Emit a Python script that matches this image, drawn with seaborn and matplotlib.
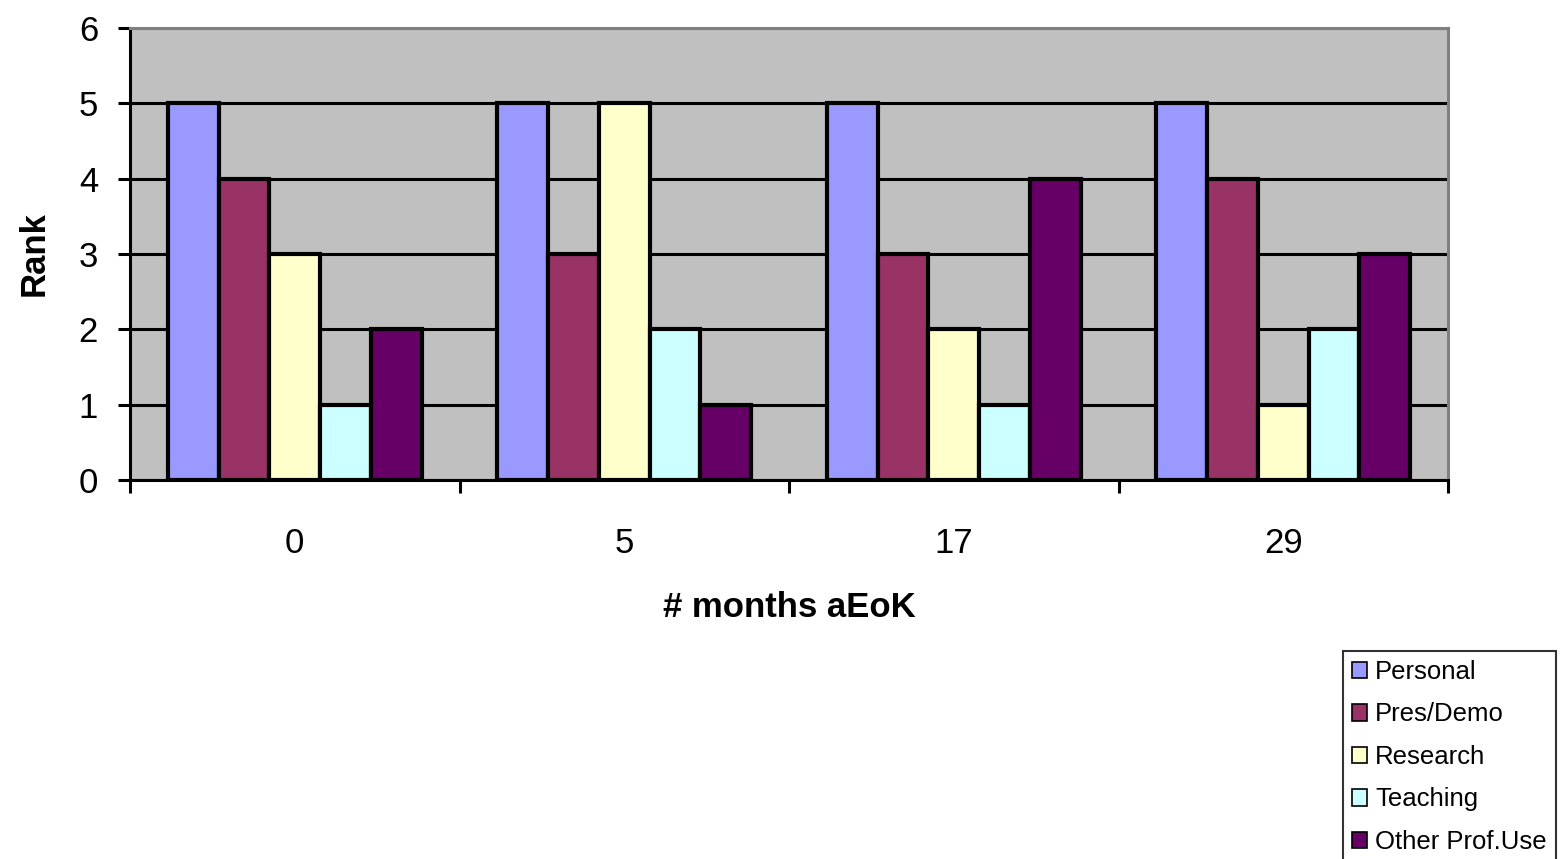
import pandas as pd
import seaborn as sns
import matplotlib.pyplot as plt
from matplotlib.ticker import FixedLocator

# dati
mesi = ["0", "5", "17", "29"]
usi = ["Personal", "Pres/Demo", "Research", "Teaching", "Other Prof.Use"]
personal = [5, 5, 5, 5]
pres_demo = [4, 3, 3, 4]
research = [3, 5, 2, 1]
teaching = [1, 2, 1, 2]
other_prof = [2, 1, 4, 3]
colori = ["#9999FF", "#993366", "#FFFFCC", "#CCFFFF", "#660066"]

righe = []
for nome, valori in zip(usi, [personal, pres_demo, research, teaching, other_prof]):
    for m, v in zip(mesi, valori):
        righe.append({"mese": m, "uso": nome, "rank": v})
df = pd.DataFrame(righe)

sns.set_style("white")
plt.rcParams["font.family"] = ["Liberation Sans", "DejaVu Sans"]
plt.rcParams["text.color"] = "black"
plt.rcParams["axes.labelcolor"] = "black"
plt.rcParams["xtick.color"] = "black"
plt.rcParams["ytick.color"] = "black"

fig = plt.figure(figsize=(15.62, 8.59), dpi=100)
ax = fig.add_axes([130 / 1562, 1 - 480 / 859, 1318 / 1562, 452 / 859])
ax.set_facecolor("#C0C0C0")
ax.set_axisbelow(True)

sns.barplot(data=df, x="mese", y="rank", hue="uso", order=mesi, hue_order=usi,
            palette=colori, width=0.77, gap=0, edgecolor="black", linewidth=3,
            saturation=1, ax=ax, legend=True)

ax.set_xlim(-0.5, 3.5)
ax.set_ylim(0, 6)
ax.set_yticks(range(7))
ax.yaxis.grid(True, color="black", linewidth=2.2)
ax.xaxis.grid(False)

ax.xaxis.set_minor_locator(FixedLocator([-0.5, 0.5, 1.5, 2.5, 3.5]))
ax.tick_params(axis="x", which="major", length=0, pad=34, labelsize=25)
ax.tick_params(axis="x", which="minor", length=9, width=2.2, color="black", direction="out", bottom=True)
ax.tick_params(axis="y", length=9, width=2.2, color="black", direction="out", left=True, pad=14, labelsize=25)

for lato in ["left", "bottom"]:
    ax.spines[lato].set_color("black")
    ax.spines[lato].set_linewidth(2.2)
for lato in ["top", "right"]:
    ax.spines[lato].set_color("#808080")
    ax.spines[lato].set_linewidth(2.2)

ax.set_xlabel("# months aEoK", fontsize=25, fontweight="bold", labelpad=22)
ax.set_ylabel("Rank", fontsize=25, fontweight="bold", labelpad=20)

ax.legend_.remove()
handles, labels = ax.get_legend_handles_labels()
leg = fig.legend(handles[:5], labels[:5], loc="upper left",
                 bbox_to_anchor=(1343 / 1562, 1 - 651 / 859),
                 fontsize=18.5, frameon=True, fancybox=False, edgecolor="black",
                 handlelength=0.6, handleheight=0.6, handletextpad=0.3,
                 labelspacing=0.72, borderpad=0.35, borderaxespad=0)
leg.get_frame().set_linewidth(1.5)
for h in leg.legend_handles:
    h.set_linewidth(1.2)

fig.savefig("out.png", dpi=100)
